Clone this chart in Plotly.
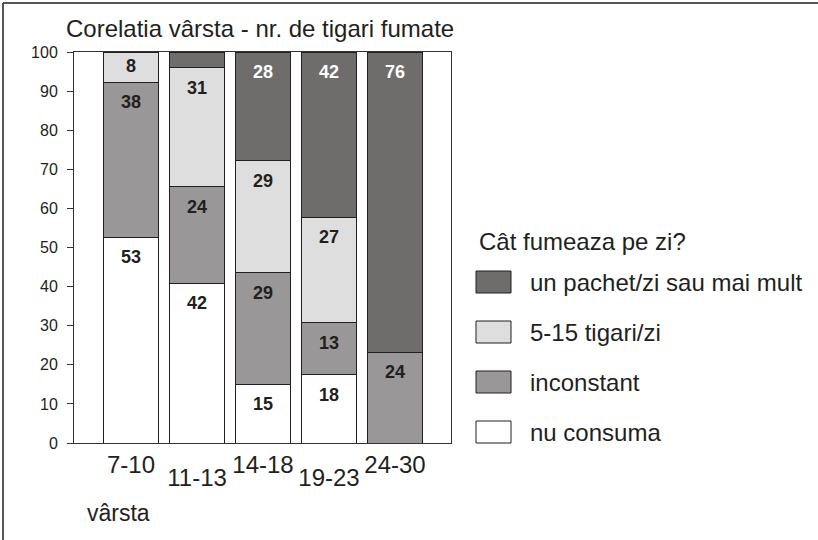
import plotly.graph_objects as go

# ---------------- data ----------------
categories = ["7-10", "11-13", "14-18", "19-23", "24-30"]
series_names = ["nu consuma", "inconstant", "5-15 tigari/zi", "un pachet/zi sau mai mult"]
nu_consuma = [52.6, 40.8, 15.0, 17.4, 0]
inconstant = [39.7, 24.8, 28.6, 13.4, 23.2]
tigari_5_15 = [7.7, 30.4, 28.6, 26.9, 0]
un_pachet = [0, 4.0, 27.8, 42.3, 76.8]
lbl_nu_consuma = ["53", "42", "15", "18", ""]
lbl_inconstant = ["38", "24", "29", "13", "24"]
lbl_5_15 = ["8", "31", "29", "27", ""]
lbl_un_pachet = ["", "", "28", "42", "76"]
y_ticks = [0, 10, 20, 30, 40, 50, 60, 70, 80, 90, 100]
title_text = "Corelatia vârsta - nr. de tigari fumate"
x_title = "vârsta"
legend_title = "Cât fumeaza pe zi?"

# ---------------- style ----------------
colors = ["#ffffff", "#999797", "#dedede", "#6f6d6c"]
label_colors = ["#231f20", "#231f20", "#231f20", "#ffffff"]
edge = "#231f20"
txt = "#231f20"
FONT = "Liberation Sans, Arial, sans-serif"

W, H = 818, 540
L, R, T, B = 74, 367, 52, 97
PW, PH = W - L - R, H - T - B


def px_x(p):
    return (p - L) / PW


def px_y(p):
    return (H - B - p) / PH


values = [nu_consuma, inconstant, tigari_5_15, un_pachet]
labels = [lbl_nu_consuma, lbl_inconstant, lbl_5_15, lbl_un_pachet]

fig = go.Figure()
for name, vals, col in zip(series_names, values, colors):
    fig.add_trace(go.Bar(
        x=categories, y=vals, name=name, marker=dict(color=col, line=dict(color=edge, width=1)),
        showlegend=False, hoverinfo="x+y+name",
    ))

# value labels near the top of each segment
base = [0.0] * len(categories)
for vals, lbls, tc in zip(values, labels, label_colors):
    xs, ys, ts = [], [], []
    for i, (v, t) in enumerate(zip(vals, lbls)):
        top = base[i] + v
        if t:
            xs.append(categories[i])
            ys.append(top - min(5.5, v / 2))
            ts.append(t)
        base[i] = top
    fig.add_trace(go.Scatter(
        x=xs, y=ys, text=ts, mode="text", xaxis="x2", yaxis="y",
        textfont=dict(family=FONT, size=18, color=tc, weight=700),
        showlegend=False, hoverinfo="skip",
    ))

xr = [-0.864, -0.864 + PW / 66.0]
fig.update_layout(
    width=W, height=H,
    margin=dict(l=L, r=R, t=T, b=B),
    paper_bgcolor="white", plot_bgcolor="white",
    barmode="stack", bargap=0.174,
    font=dict(family=FONT, color=txt),
    title=dict(text=title_text, x=66 / W, xanchor="left", y=1 - 29 / H, yanchor="middle",
               font=dict(family=FONT, size=24, color=txt)),
    xaxis=dict(type="category", categoryorder="array", categoryarray=categories, range=xr,
               tickvals=categories[0::2], ticktext=categories[0::2], ticks="",
               showline=True, mirror=True, linecolor="#333333", linewidth=1, showgrid=False,
               tickfont=dict(family=FONT, size=24, color=txt), zeroline=False),
    xaxis2=dict(type="category", categoryorder="array", categoryarray=categories, range=xr,
                overlaying="x", anchor="y", side="bottom",
                tickvals=categories[1::2], ticktext=categories[1::2], ticks="",
                ticklabelstandoff=18, showline=False, showgrid=False,
                tickfont=dict(family=FONT, size=24, color=txt), zeroline=False),
    yaxis=dict(range=[0, 100], tickvals=y_ticks, ticks="outside", ticklen=6, tickcolor="#333333",
               showline=True, mirror=True, linecolor="#333333", linewidth=1, showgrid=False,
               ticklabelstandoff=6,
               zeroline=False, tickfont=dict(family=FONT, size=16, color=txt)),
)

# axis caption
fig.add_annotation(text=x_title, xref="paper", yref="paper", x=px_x(85), y=px_y(513),
                   xanchor="left", yanchor="middle", showarrow=False,
                   font=dict(family=FONT, size=23, color=txt))

# legend (drawn manually to reproduce the large swatches)
fig.add_annotation(text=legend_title, xref="paper", yref="paper", x=px_x(477), y=px_y(241),
                   xanchor="left", yanchor="middle", showarrow=False,
                   font=dict(family=FONT, size=24, color=txt))
legend_order = [3, 2, 1, 0]
for k, idx in enumerate(legend_order):
    cy = 282 + 50 * k
    fig.add_shape(type="rect", xref="paper", yref="paper",
                  x0=px_x(476), x1=px_x(511), y0=px_y(cy - 11), y1=px_y(cy + 11),
                  fillcolor=colors[idx], line=dict(color=edge, width=1))
    fig.add_annotation(text=series_names[idx], xref="paper", yref="paper", x=px_x(528), y=px_y(cy),
                       xanchor="left", yanchor="middle", showarrow=False,
                       font=dict(family=FONT, size=24, color=txt))

# figure border (top and left)
fig.add_shape(type="line", xref="paper", yref="paper", x0=px_x(3), x1=px_x(W), y0=px_y(3), y1=px_y(3),
              line=dict(color="#555555", width=2))
fig.add_shape(type="line", xref="paper", yref="paper", x0=px_x(3), x1=px_x(3), y0=px_y(3), y1=px_y(H),
              line=dict(color="#555555", width=2))

fig.write_html("out.html", config={"displayModeBar": False},
               post_script="document.body.style.margin='0';document.body.style.overflow='hidden';")
